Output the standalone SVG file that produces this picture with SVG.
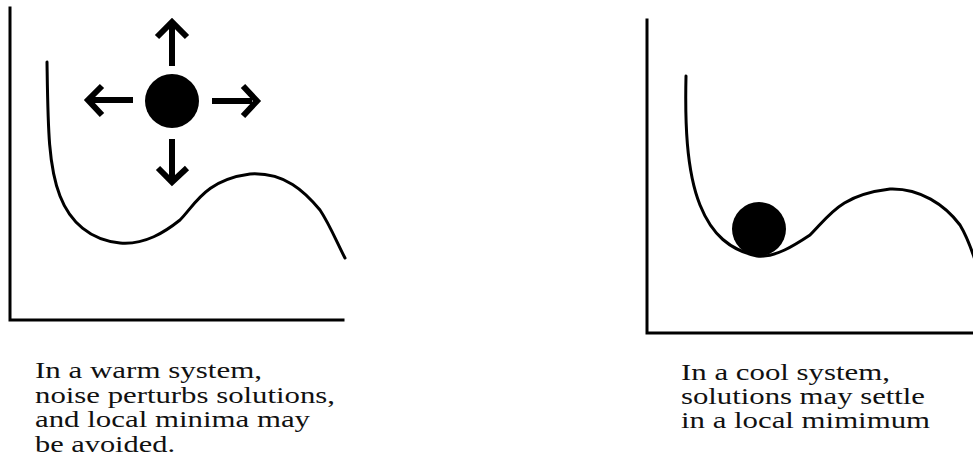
<svg xmlns="http://www.w3.org/2000/svg" width="973" height="474" viewBox="0 0 973 474">
<style>
.axis{fill:none;stroke:#000;stroke-width:3;stroke-linecap:square}
.curve{fill:none;stroke:#000;stroke-width:3;stroke-linecap:round;stroke-linejoin:round}
.arrow{fill:none;stroke:#000;stroke-width:6;stroke-linecap:butt;stroke-linejoin:miter}
.ball{fill:#000}
.cap{font-family:"Liberation Serif","Times New Roman",serif;font-size:24px;fill:#111}
</style>
<rect width="973" height="474" fill="#fff"/>
<g id="warm-panel">
  <path class="axis" d="M10,8 V320 H343"/>
  <path class="curve" d="M47,62 C48,125 48,165 60,196 C70,222 90,240 120,243 C145,245 165,232 180,220 C195,205 205,180 250,174 C285,172 305,192 320,210 C330,225 338,245 345,258"/>
  <circle class="ball" cx="172" cy="101" r="27"/>
  <g id="noise-arrows">
    <path class="arrow" d="M172,66 V25 M157,37 L172,22 L187,37"/>
    <path class="arrow" d="M172,139 V180 M158,168 L172,182 L187,168"/>
    <path class="arrow" d="M133,100 H92 M102,86 L88,100 L102,115"/>
    <path class="arrow" d="M212,101 H252 M243,86 L257,101 L243,116"/>
  </g>
</g>
<g id="warm-caption">
  <text class="cap" x="35" y="378" textLength="227" lengthAdjust="spacingAndGlyphs">In a warm system,</text>
  <text class="cap" x="35" y="403" textLength="300" lengthAdjust="spacingAndGlyphs">noise perturbs solutions,</text>
  <text class="cap" x="35" y="427" textLength="275" lengthAdjust="spacingAndGlyphs">and local minima may</text>
  <text class="cap" x="35" y="452" textLength="140" lengthAdjust="spacingAndGlyphs">be avoided.</text>
</g>
<g id="cool-panel">
  <path class="axis" d="M647,20 V333 H975"/>
  <path class="curve" d="M686,76 C685,120 686,170 700,205 C712,235 730,250 757,256 C775,258 795,245 810,235 C830,215 840,195 890,189 C920,188 945,205 960,225 C966,235 970,245 975,260"/>
  <circle class="ball" cx="759" cy="229" r="27"/>
</g>
<g id="cool-caption">
  <text class="cap" x="681" y="380" textLength="209" lengthAdjust="spacingAndGlyphs">In a cool system,</text>
  <text class="cap" x="681" y="404" textLength="244" lengthAdjust="spacingAndGlyphs">solutions may settle</text>
  <text class="cap" x="681" y="428" textLength="249" lengthAdjust="spacingAndGlyphs">in a local mimimum</text>
</g>
<g id="connectors"></g>
</svg>
